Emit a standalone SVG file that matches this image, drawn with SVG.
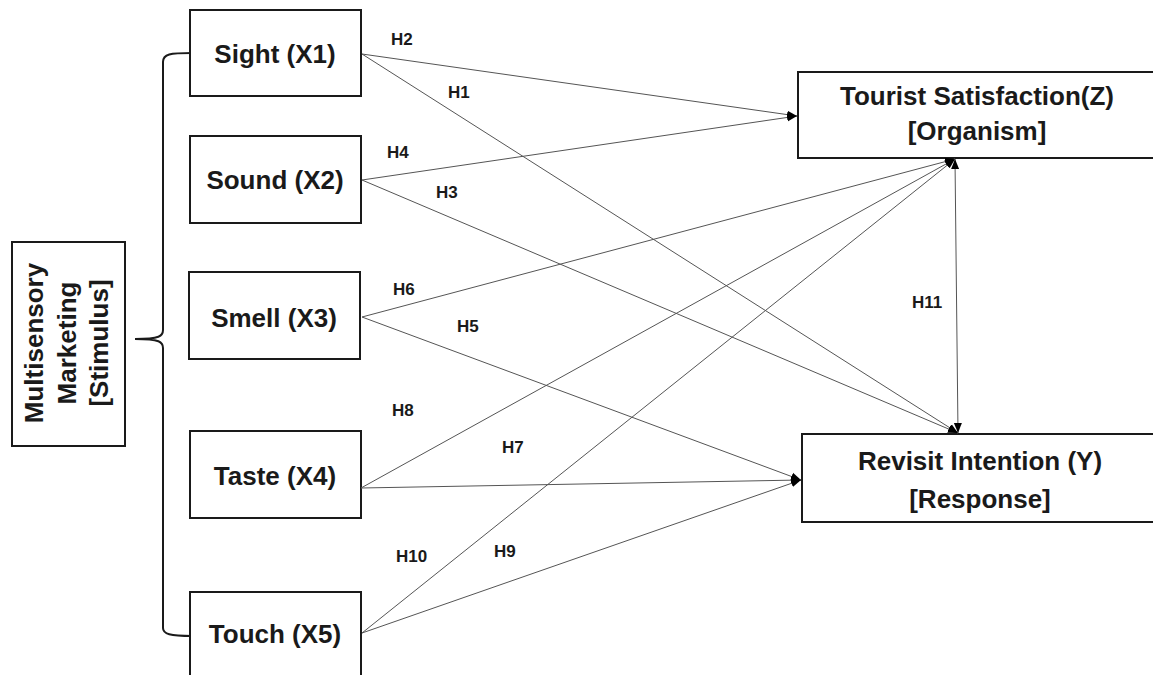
<svg xmlns="http://www.w3.org/2000/svg" width="1153" height="675" viewBox="0 0 1153 675">
<style>
.box{fill:#fff;stroke:#1a1a1a;stroke-width:2}
.t{font-family:"Liberation Sans",Arial,sans-serif;font-weight:bold;font-size:26px;fill:#1a1a1a;text-anchor:middle}
.h{font-family:"Liberation Sans",Arial,sans-serif;font-weight:bold;font-size:17px;fill:#1a1a1a}
.c{stroke:#555;stroke-width:1;fill:none}
</style>
<defs>
<marker id="ah" viewBox="0 0 10 10" refX="10" refY="5" markerWidth="10" markerHeight="10" markerUnits="userSpaceOnUse" orient="auto">
<path d="M0,1 L10,5 L0,9 Z" fill="#000"/>
</marker>
<marker id="as" viewBox="0 0 10 10" refX="0" refY="5" markerWidth="10" markerHeight="10" markerUnits="userSpaceOnUse" orient="auto">
<path d="M10,1 L0,5 L10,9 Z" fill="#000"/>
</marker>
</defs>
<rect width="1153" height="675" fill="#fff"/>

<g id="stimulus">
<rect class="box" x="12" y="242" width="113" height="204"/>
<g transform="translate(0,343) rotate(-90)">
<text class="t" x="0" y="43">Multisensory</text>
<text class="t" x="0" y="76">Marketing</text>
<text class="t" x="0" y="108">[Stimulus]</text>
</g>
</g>

<g id="brace">
<path d="M192,53 C170,53 163,54 163,62 L163,330 C163,336 160,339 135,339 C160,339 163,342 163,348 L163,628 C163,634 170,636 192,636" fill="none" stroke="#1a1a1a" stroke-width="2"/>
</g>

<g id="sight">
<rect class="box" x="190" y="10" width="171" height="86"/>
<text class="t" x="275" y="63">Sight (X1)</text>
</g>
<g id="sound">
<rect class="box" x="190" y="136" width="171" height="87"/>
<text class="t" x="275" y="189">Sound (X2)</text>
</g>
<g id="smell">
<rect class="box" x="189" y="272" width="171" height="87"/>
<text class="t" x="274" y="327">Smell (X3)</text>
</g>
<g id="taste">
<rect class="box" x="190" y="431" width="171" height="87"/>
<text class="t" x="275" y="485">Taste (X4)</text>
</g>
<g id="touch">
<rect class="box" x="190" y="592" width="171" height="100"/>
<text class="t" x="275" y="643">Touch (X5)</text>
</g>

<g id="satisfaction">
<rect class="box" x="798" y="72" width="356" height="86"/>
<text class="t" x="977" y="105">Tourist Satisfaction(Z)</text>
<text class="t" x="977" y="140">[Organism]</text>
</g>
<g id="revisit">
<rect class="box" x="802" y="434" width="352" height="88"/>
<text class="t" x="980" y="470">Revisit Intention (Y)</text>
<text class="t" x="980" y="508">[Response]</text>
</g>

<g id="connectors">
<line class="c" x1="362" y1="54" x2="797" y2="116" marker-end="url(#ah)"/>
<line class="c" x1="362" y1="54" x2="958" y2="433" marker-end="url(#ah)"/>
<line class="c" x1="362" y1="180" x2="797" y2="116" marker-end="url(#ah)"/>
<line class="c" x1="362" y1="180" x2="958" y2="433" marker-end="url(#ah)"/>
<line class="c" x1="362" y1="317" x2="955" y2="159" marker-end="url(#ah)"/>
<line class="c" x1="362" y1="317" x2="801" y2="480" marker-end="url(#ah)"/>
<line class="c" x1="361" y1="488" x2="955" y2="159" marker-end="url(#ah)"/>
<line class="c" x1="361" y1="488" x2="801" y2="480" marker-end="url(#ah)"/>
<line class="c" x1="362" y1="633" x2="955" y2="159" marker-end="url(#ah)"/>
<line class="c" x1="362" y1="633" x2="801" y2="480" marker-end="url(#ah)"/>
<line class="c" x1="955" y1="159" x2="958" y2="433" marker-start="url(#as)" marker-end="url(#ah)"/>
</g>

<g id="labels">
<text class="h" x="391" y="45">H2</text>
<text class="h" x="448" y="98">H1</text>
<text class="h" x="387" y="158">H4</text>
<text class="h" x="436" y="198">H3</text>
<text class="h" x="393" y="295">H6</text>
<text class="h" x="457" y="332">H5</text>
<text class="h" x="392" y="416">H8</text>
<text class="h" x="502" y="453">H7</text>
<text class="h" x="396" y="562">H10</text>
<text class="h" x="494" y="557">H9</text>
<text class="h" x="912" y="308">H11</text>
</g>
</svg>
